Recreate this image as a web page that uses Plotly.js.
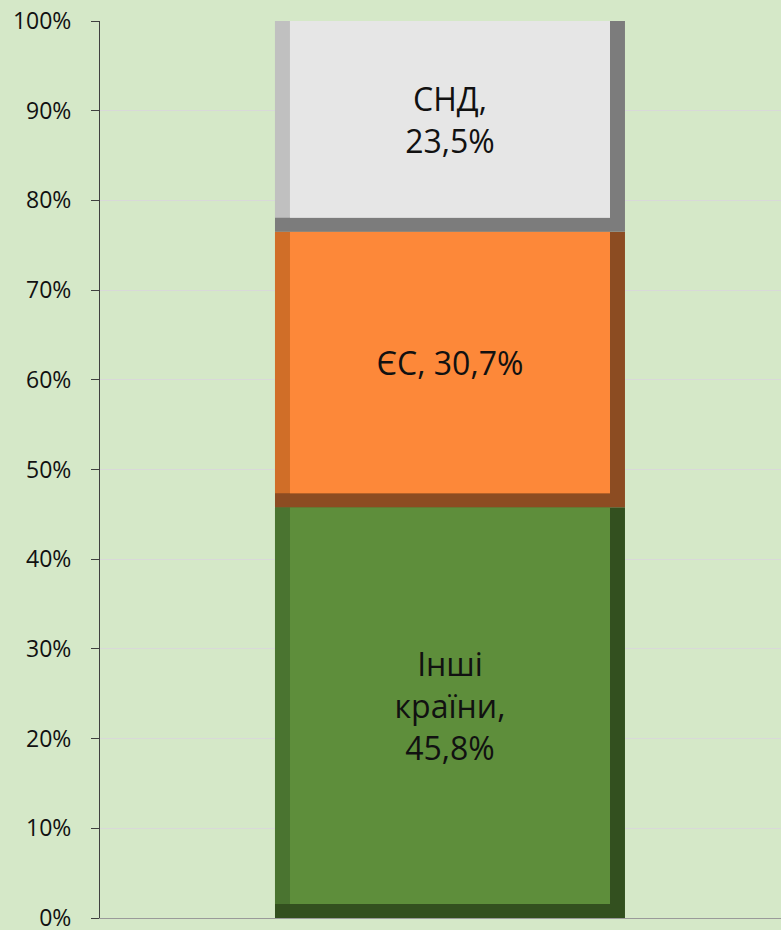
<!DOCTYPE html>
<html>
<head>
<meta charset="utf-8">
<script src="https://cdn.plot.ly/plotly-3.0.1.min.js"></script>
<style>html,body{margin:0;padding:0;background:#d5e8c8;}#chart{width:781px;height:930px;}</style>
</head>
<body>
<div id="chart"></div>
<script>
// Data
const categories = ["Інші країни", "ЄС", "СНД"];
const shares = [45.8, 30.7, 23.5];
const labels = ["Інші<br>країни,<br>45,8%", "ЄС, 30,7%", "СНД,<br>23,5%"];
const yTickVals = [0, 10, 20, 30, 40, 50, 60, 70, 80, 90, 100];
const yTickText = ["0%", "10%", "20%", "30%", "40%", "50%", "60%", "70%", "80%", "90%", "100%"];

// Styles
const faceColors = ["#5e8e3b", "#fd8839", "#e6e6e6"];
const leftColors = ["#4a7430", "#d06e28", "#c0c0c0"];
const darkColors = ["#33501f", "#8c4c22", "#7c7c7c"];
const barWidth = 0.5;
const insetX = 0.0214;
const insetY = 1.56;

const traces = [];
let cum = 0;
shares.forEach((v, i) => {
  const base = cum;
  cum += v;
  traces.push({type: "bar", x: [0], y: [v], base: [base], width: [barWidth], offset: -barWidth / 2,
    marker: {color: darkColors[i], line: {width: 0}}, hoverinfo: "skip", showlegend: false});
  traces.push({type: "bar", x: [0], y: [v - insetY], base: [base + insetY], width: [barWidth - insetX], offset: -barWidth / 2,
    marker: {color: leftColors[i], line: {width: 0}}, hoverinfo: "skip", showlegend: false});
  traces.push({type: "bar", x: [0], y: [v - insetY], base: [base + insetY], width: [barWidth - 2 * insetX], offset: -barWidth / 2 + insetX,
    marker: {color: faceColors[i], line: {width: 0}}, name: categories[i],
    text: [labels[i]], textposition: "inside", insidetextanchor: "middle", constraintext: "none",
    textfont: {family: "Open Sans, sans-serif", size: 32, color: "#111111"},
    hoverinfo: "skip", showlegend: false});
});

const layout = {
  width: 781, height: 930,
  margin: {l: 100, r: 0, t: 21, b: 12, pad: 0},
  paper_bgcolor: "#d5e8c8", plot_bgcolor: "#d5e8c8",
  barmode: "overlay",
  showlegend: false,
  xaxis: {range: [-0.5, 0.4729], showticklabels: false, showgrid: false, zeroline: false,
    showline: true, linecolor: "#9a9a9a", linewidth: 1, ticks: "", fixedrange: true},
  yaxis: {range: [0, 100], tickvals: yTickVals, ticktext: yTickText, showgrid: true, gridcolor: "#d9d9d9", gridwidth: 1,
    zeroline: false, showline: true, linecolor: "#404040", linewidth: 1, ticks: "outside", ticklen: 8, tickcolor: "#404040",
    tickfont: {family: "Open Sans, sans-serif", size: 23, color: "#111111"}, ticklabelstandoff: 15,
    ticklabeloverflow: "allow", fixedrange: true},
  font: {family: "Open Sans, sans-serif"}
};

Plotly.newPlot("chart", traces, layout, {displayModeBar: false, staticPlot: true});
</script>
</body>
</html>
